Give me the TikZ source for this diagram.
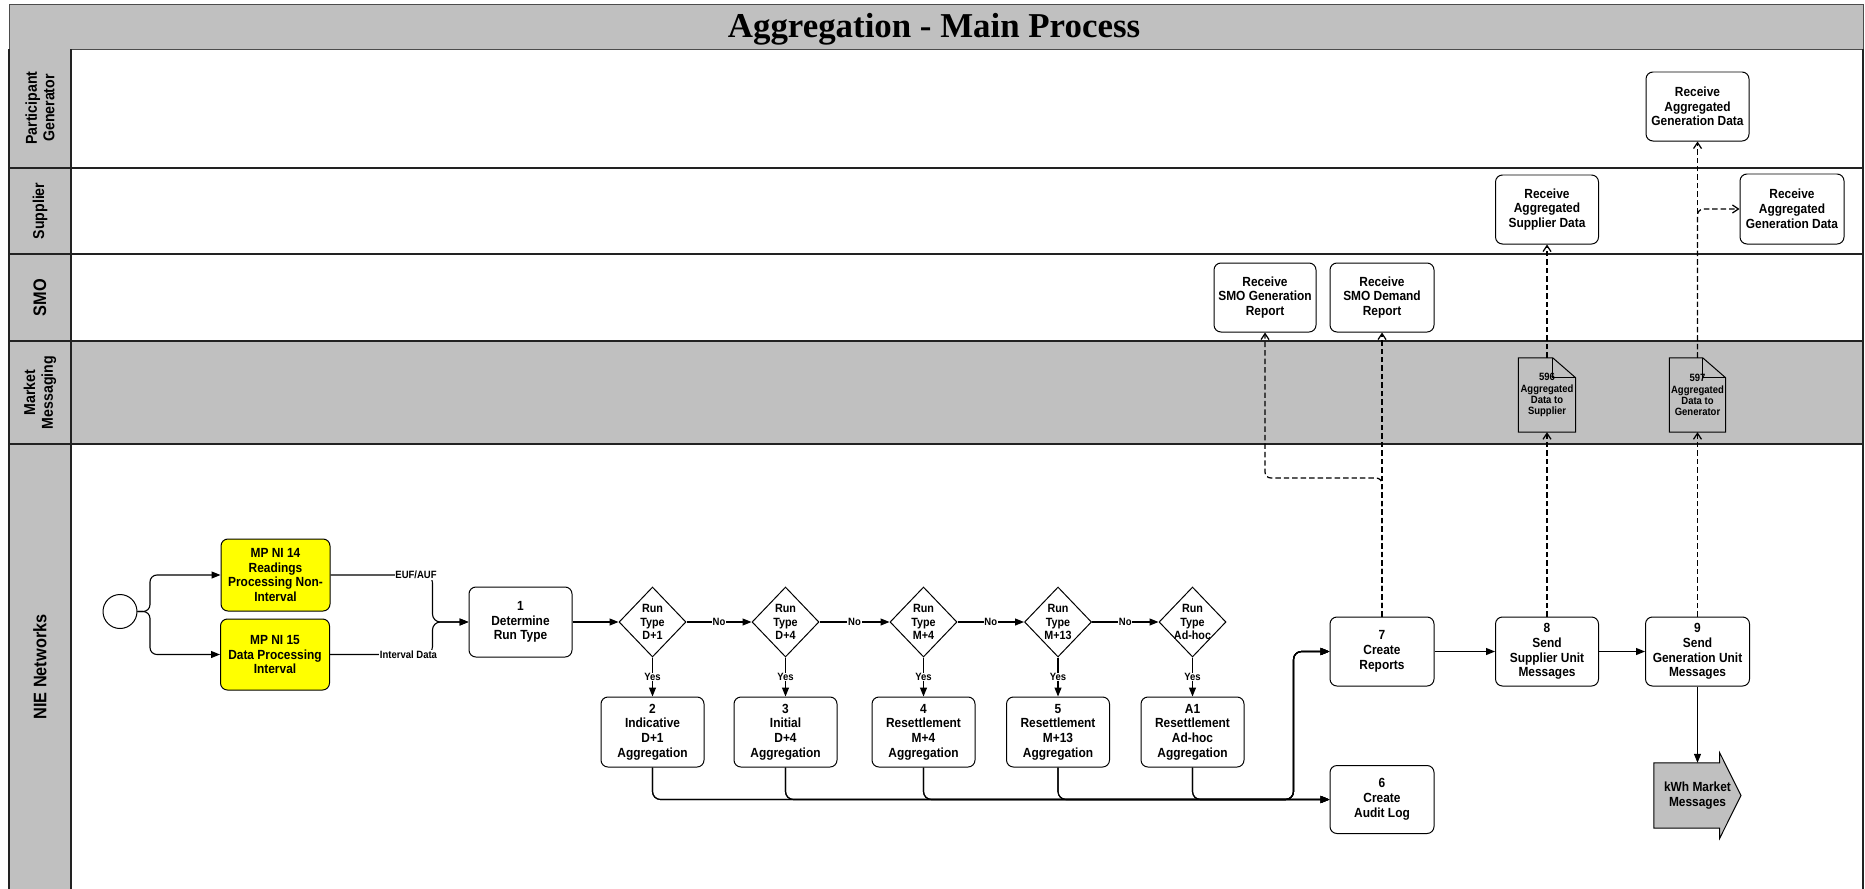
\documentclass[tikz,border=0pt]{standalone}
\usepackage{fontspec}
\setmainfont{Liberation Sans}[FakeStretch=0.9]
\newfontfamily\titlefont{Liberation Serif}
\usetikzlibrary{arrows.meta,shapes.geometric,calc}
\definecolor{lanegray}{HTML}{C0C0C0}
\definecolor{procyellow}{HTML}{FFFF00}
\definecolor{lanebd}{HTML}{222222}
\tikzset{
 box/.style={draw, line width=1pt, rounded corners=7pt, fill=white, minimum width=104bp, minimum height=70bp, inner sep=0pt, align=center, font=\bfseries\fontsize{13.3}{14.8}\selectfont},
 dia/.style={draw, diamond, line width=1pt, fill=white, minimum width=67bp, minimum height=70bp, inner sep=0pt},
 dtext/.style={align=center, inner sep=0pt, font=\bfseries\fontsize{12}{13.2}\selectfont},
 elbl/.style={fill=white, inner sep=0.8pt, font=\bfseries\fontsize{10.6}{11}\selectfont},
 arr/.style={line width=1.1pt, -{Triangle[length=9pt,width=7pt]}},
 darr/.style={line width=1.25pt, dash pattern=on 5.5pt off 3pt, -{Straight Barb[length=6pt,width=8pt]}},
 lanelbl/.style={rotate=90, align=center, inner sep=0pt, font=\bfseries\fontsize{15.8}{17.8}\selectfont},
 lanelblbig/.style={rotate=90, align=center, inner sep=0pt, font=\bfseries\fontsize{18.2}{20}\selectfont},
 docnode/.style={minimum width=57bp, minimum height=74bp, inner sep=0pt, align=center, font=\bfseries\fontsize{10.6}{11.2}\selectfont},
 docline/.style={line width=1pt},
 startc/.style={draw, circle, line width=1pt, fill=white, minimum size=34bp, inner sep=0pt},
 lanesep/.style={draw=lanebd, line width=1.6pt},
}
\begin{document}
\begin{tikzpicture}[x=1bp,y=-1bp]
\useasboundingbox (0,0) rectangle (1865,889);
\fill[white] (0,0) rectangle (1865,889);
% title bar
\fill[lanegray] (9,4) rectangle (1863,49);
\draw[draw=gray!60!black, line width=1pt] (9,4) rectangle (1863,49);
\node[font=\titlefont\bfseries\fontsize{35}{40}\selectfont, anchor=base, inner sep=0pt] (title) at (934,37) {Aggregation - Main Process};
% lanes
\fill[lanegray] (9,49) rectangle (71,889);
\fill[lanegray] (71,341) rectangle (1863,444);
\draw[lanesep] (9,168) -- (1863,168);
\draw[lanesep] (9,254) -- (1863,254);
\draw[lanesep] (9,341) -- (1863,341);
\draw[lanesep] (9,444) -- (1863,444);
\draw[lanesep] (71,49) -- (71,889);
\draw[lanesep] (9,49) -- (9,889);
\draw[lanesep] (1863,49) -- (1863,889);
\node[lanelbl] (lPG) at (40,108) {Participant\\Generator};
\node[lanelbl] (lSup) at (40,211) {Supplier};
\node[lanelblbig] (lSMO) at (40,297.5) {SMO};
\node[lanelbl] (lMM) at (40,392.5) {Market\\Messaging};
\node[lanelblbig] (lNIE) at (40,667) {NIE Networks};

% NIE nodes
\node[startc] (start) at (120,611.5) {};
\node[box, fill=procyellow, minimum width=109bp, minimum height=72bp] (mp14) at (275.5,575) {MP NI 14\\Readings\\Processing Non-\\Interval};
\node[box, fill=procyellow, minimum width=109bp, minimum height=71bp] (mp15) at (275,654.5) {MP NI 15\\Data Processing\\Interval};
\node[box, minimum width=103bp] (rt1) at (520.5,622) {1\\Determine\\Run Type};

\node[dia, label={[dtext]center:Run\\Type\\D+1}] (d1) at (652.5,622) {};
\node[dia, label={[dtext]center:Run\\Type\\D+4}] (d2) at (785.5,622) {};
\node[dia, label={[dtext]center:Run\\Type\\M+4}] (d3) at (923.5,622) {};
\node[dia, label={[dtext]center:Run\\Type\\M+13}] (d4) at (1058,622) {};
\node[dia, label={[dtext]center:Run\\Type\\Ad-hoc}] (d5) at (1192.5,622) {};

\node[box, minimum width=103bp] (a2) at (652.5,732) {2\\Indicative\\D+1\\Aggregation};
\node[box, minimum width=103bp] (a3) at (785.5,732) {3\\Initial\\D+4\\Aggregation};
\node[box, minimum width=103bp] (a4) at (923.5,732) {4\\Resettlement\\M+4\\Aggregation};
\node[box, minimum width=103bp] (a5) at (1058,732) {5\\Resettlement\\M+13\\Aggregation};
\node[box, minimum width=103bp] (aA1) at (1192.5,732) {A1\\Resettlement\\Ad-hoc\\Aggregation};

\node[box, minimum height=69bp] (rep7) at (1382,651.5) {7\\Create\\Reports};
\node[box, minimum height=68bp] (audit6) at (1382,799.5) {6\\Create\\Audit Log};
\node[box, minimum height=69bp, minimum width=103bp] (send8) at (1547,651.5) {8\\Send\\Supplier Unit\\Messages};
\node[box, minimum height=69bp] (send9) at (1697.5,651.5) {9\\Send\\Generation Unit\\Messages};

% kWh Market Messages arrow shape
\node[minimum width=65.5bp, minimum height=65bp, inner sep=0pt] (kwhbody) at (1686.75,795.5) {};
\filldraw[fill=lanegray, line width=1pt] (kwhbody.north west) -- (kwhbody.north east) -- ++(0,-10) -- (1741,795.5) -- ($(kwhbody.south east)+(0,10)$) -- (kwhbody.south east) -- (kwhbody.south west) -- cycle;
\node[align=center, inner sep=0pt, font=\bfseries\fontsize{13.3}{14.8}\selectfont] (kwh) at (1697.5,795.5) {kWh Market\\Messages};

% upper lanes
\node[box, minimum height=69bp, minimum width=103bp] (recvGenP) at (1697.5,106.5) {Receive\\Aggregated\\Generation Data};
\node[box, minimum height=69bp, minimum width=103bp] (recvSup) at (1547,209.5) {Receive\\Aggregated\\Supplier Data};
\node[box] (recvGenS) at (1792,209) {Receive\\Aggregated\\Generation Data};
\node[box, minimum height=69bp, minimum width=102bp] (smoGen) at (1265,297.5) {Receive\\SMO Generation\\Report};
\node[box, minimum height=69bp] (smoDem) at (1382,297.5) {Receive\\SMO Demand\\Report};

% documents
\node[docnode] (doc596) at (1547,395) {596\\Aggregated\\Data to\\Supplier};
\draw[docline] (doc596.north west) -- ([xshift=-23bp]doc596.north east) -- ([yshift=-20bp]doc596.north east) -- (doc596.south east) -- (doc596.south west) -- cycle;
\draw[docline] ([xshift=-23bp]doc596.north east) -- ([xshift=-23bp,yshift=-20bp]doc596.north east) -- ([yshift=-20bp]doc596.north east);
\node[docnode, minimum width=56bp] (doc597) at (1697.5,395) {597\\Aggregated\\Data to\\Generator};
\draw[docline] (doc597.north west) -- ([xshift=-23bp]doc597.north east) -- ([yshift=-20bp]doc597.north east) -- (doc597.south east) -- (doc597.south west) -- cycle;
\draw[docline] ([xshift=-23bp]doc597.north east) -- ([xshift=-23bp,yshift=-20bp]doc597.north east) -- ([yshift=-20bp]doc597.north east);

% connectors
\draw[arr, rounded corners=7pt] (start.east) -- (150,611.5) |- (mp14.west);
\draw[arr, rounded corners=7pt] (start.east) -- (150,611.5) |- (mp15.west);
\draw[arr, rounded corners=8pt] (mp14.east) -| ($(rt1.west)+(-36,0)$) -- (rt1.west);
\draw[arr, rounded corners=8pt] (mp15.east) -| ($(rt1.west)+(-36,0)$) -- (rt1.west);
\node[elbl] (lEUF) at (416,575) {EUF/AUF};
\node[elbl] (lInt) at (408.5,654.5) {Interval Data};
\draw[arr] (rt1.east) -- (d1.west);
\draw[arr] (d1.east) -- node[elbl] (n1) {No} (d2.west);
\draw[arr] (d2.east) -- node[elbl] (n2) {No} (d3.west);
\draw[arr] (d3.east) -- node[elbl] (n3) {No} (d4.west);
\draw[arr] (d4.east) -- node[elbl] (n4) {No} (d5.west);
\draw[arr] (d1.south) -- node[elbl] (y1) {Yes} (a2.north);
\draw[arr] (d2.south) -- node[elbl] (y2) {Yes} (a3.north);
\draw[arr] (d3.south) -- node[elbl] (y3) {Yes} (a4.north);
\draw[arr] (d4.south) -- node[elbl] (y4) {Yes} (a5.north);
\draw[arr] (d5.south) -- node[elbl] (y5) {Yes} (aA1.north);
\foreach \a in {a2,a3,a4,a5,aA1} {
  \draw[arr, rounded corners=8pt] (\a.south) |- (audit6.west);
  \draw[arr, rounded corners=8pt] (\a.south) |- ($(audit6.west)+(-36,0)$) |- (rep7.west);
}
\draw[arr] (rep7.east) -- (send8.west);
\draw[arr] (send8.east) -- (send9.west);
\draw[arr] (send9.south) -- (send9.south |- kwhbody.north);

\draw[darr] (rep7.north) -- (smoDem.south);
\draw[darr, rounded corners=6pt] (rep7.north) -- (rep7.north |- 0,478) -| (smoGen.south);
\draw[darr] (send8.north) -- (doc596.south);
\draw[darr] (doc596.north) -- (recvSup.south);
\draw[darr] (send9.north) -- (doc597.south);
\draw[darr] (doc597.north) -- (recvGenP.south);
\draw[darr, rounded corners=6pt] (doc597.north) |- (recvGenS.west);
\end{tikzpicture}
\end{document}
